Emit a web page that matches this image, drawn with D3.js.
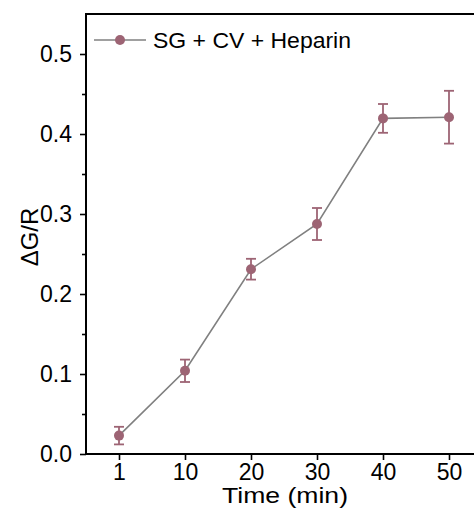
<!DOCTYPE html>
<html><head><meta charset="utf-8">
<script src="https://cdn.jsdelivr.net/npm/d3@7"></script>
<style>body{margin:0;background:#fff;} svg{display:block;font-family:"Liberation Sans",Arial,sans-serif;}</style>
</head><body>
<script>
const categories = ["1","10","20","30","40","50"];
const values = [0.023, 0.104, 0.231, 0.2875, 0.4195, 0.421];
const errors = [0.011, 0.014, 0.013, 0.020, 0.018, 0.033];
const yTicks = [0.0, 0.1, 0.2, 0.3, 0.4, 0.5];
const yMinorTicks = [0.05, 0.15, 0.25, 0.35, 0.45];
const seriesName = "SG + CV + Heparin";

const W = 474, H = 511;
const mLeft = 86, mTop = 14, mBottom = 454, mRight = 482;
const markColor = "#9d6474", lineColor = "#808080";

const svg = d3.select("body").append("svg").attr("width", W).attr("height", H);
const x = d3.scalePoint().domain(categories).range([mLeft, mRight]).padding(0.5);
const y = d3.scaleLinear().domain([0, 0.55]).range([mBottom, mTop]);

// axes
const yAxis = svg.append("g").attr("transform", `translate(${mLeft},0)`)
  .call(d3.axisLeft(y).tickValues(yTicks).tickFormat(d3.format(".1f")).tickSize(6).tickPadding(8));
const yMinor = svg.append("g").attr("transform", `translate(${mLeft},0)`)
  .call(d3.axisLeft(y).tickValues(yMinorTicks).tickFormat("").tickSize(4));
const xAxis = svg.append("g").attr("transform", `translate(0,${mBottom})`)
  .call(d3.axisBottom(x).tickSize(6).tickPadding(4));
[yAxis, yMinor, xAxis].forEach(g => {
  g.select(".domain").remove();
  g.selectAll("line").attr("stroke", "#000").attr("stroke-width", 1.6);
  g.selectAll("text").attr("font-size", 23).attr("fill", "#000").attr("font-family", "Liberation Sans, Arial, sans-serif");
});
// frame lines
svg.append("line").attr("x1", mLeft).attr("x2", mLeft).attr("y1", mTop - 1).attr("y2", mBottom + 1).attr("stroke", "#000").attr("stroke-width", 2);
svg.append("line").attr("x1", mLeft).attr("x2", W).attr("y1", mBottom).attr("y2", mBottom).attr("stroke", "#000").attr("stroke-width", 2);
svg.append("line").attr("x1", mLeft).attr("x2", W).attr("y1", mTop).attr("y2", mTop).attr("stroke", "#000").attr("stroke-width", 2);

// data line
const pts = categories.map((c, i) => ({c, v: values[i], e: errors[i]}));
svg.append("path").datum(pts)
  .attr("d", d3.line().x(d => x(d.c)).y(d => y(d.v)))
  .attr("fill", "none").attr("stroke", lineColor).attr("stroke-width", 1.6);

// error bars
const eb = svg.append("g").attr("stroke", markColor).attr("stroke-width", 1.8);
pts.forEach(d => {
  const cx = x(d.c);
  eb.append("line").attr("x1", cx).attr("x2", cx).attr("y1", y(d.v + d.e)).attr("y2", y(d.v - d.e));
  eb.append("line").attr("x1", cx - 5).attr("x2", cx + 5).attr("y1", y(d.v + d.e)).attr("y2", y(d.v + d.e));
  eb.append("line").attr("x1", cx - 5).attr("x2", cx + 5).attr("y1", y(d.v - d.e)).attr("y2", y(d.v - d.e));
});
svg.append("g").selectAll("circle").data(pts).join("circle")
  .attr("cx", d => x(d.c)).attr("cy", d => y(d.v)).attr("r", 5).attr("fill", markColor);

// legend
svg.append("line").attr("x1", 94).attr("x2", 146).attr("y1", 40).attr("y2", 40).attr("stroke", lineColor).attr("stroke-width", 1.6);
svg.append("circle").attr("cx", 120).attr("cy", 40).attr("r", 5).attr("fill", markColor);
svg.append("text").attr("x", 153).attr("y", 48).attr("font-size", 22).attr("fill", "#000")
  .attr("textLength", 198).attr("lengthAdjust", "spacingAndGlyphs").text(seriesName);

// titles
svg.append("text").attr("x", 285).attr("y", 503).attr("text-anchor", "middle").attr("font-size", 22)
  .attr("textLength", 126).attr("lengthAdjust", "spacingAndGlyphs").attr("fill", "#000").text("Time (min)");
svg.append("text").attr("transform", "translate(38,237) rotate(-90)").attr("text-anchor", "middle").attr("font-size", 24).attr("fill", "#000").text("ΔG/R");
</script>
</body></html>
